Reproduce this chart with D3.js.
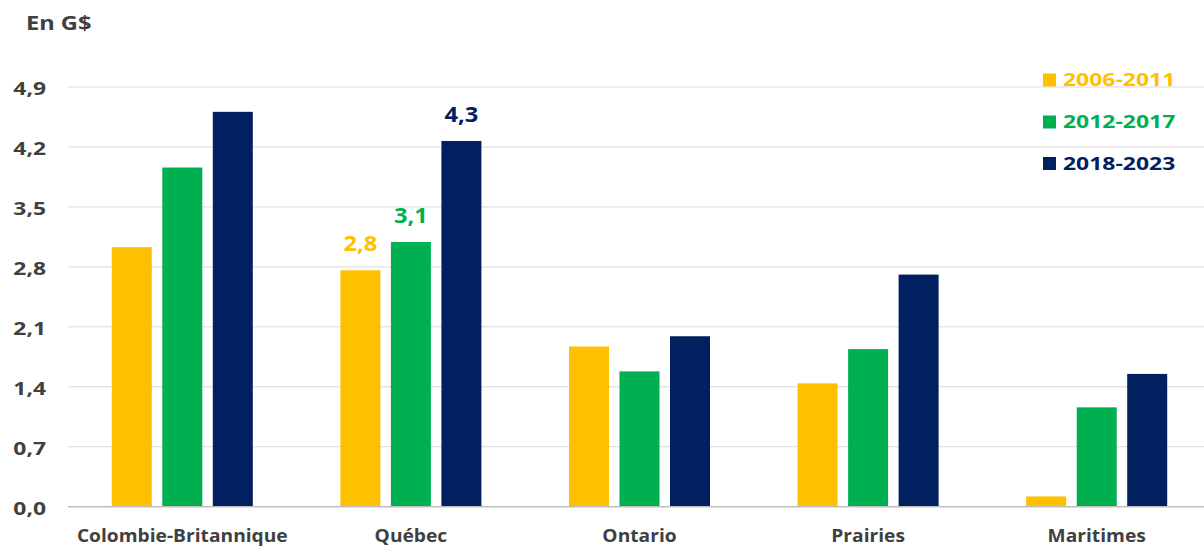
<!DOCTYPE html>
<html><head><meta charset="utf-8">
<script src="https://cdn.jsdelivr.net/npm/d3@7"></script>
<style>body{margin:0;background:#fff;} svg{display:block;font-family:"Open Sans",sans-serif;}</style>
</head><body><svg id="c" width="1204" height="547"></svg>
<script>
const categories = ["Colombie-Britannique","Québec","Ontario","Prairies","Maritimes"];
const seriesNames = ["2006-2011","2012-2017","2018-2023"];
const seriesColors = ["#FFC000","#00B050","#002060"];
const values2006 = [3.03, 2.76, 1.87, 1.44, 0.12];
const values2012 = [3.96, 3.09, 1.58, 1.84, 1.16];
const values2018 = [4.61, 4.27, 1.99, 2.71, 1.55];
const yTicks = [0, 0.7, 1.4, 2.1, 2.8, 3.5, 4.2, 4.9];
const dataLabels = [{cat:"Québec", s:0, text:"2,8"},{cat:"Québec", s:1, text:"3,1"},{cat:"Québec", s:2, text:"4,3"}];
const series = [values2006, values2012, values2018];

const FONT = "'Open Sans',sans-serif";
const svg = d3.select("#c");
const x = d3.scaleBand().domain(categories).range([68, 1211]).padding(0);
const xs = d3.scaleBand().domain([0,1,2]).range([0, x.bandwidth()]).paddingInner(0.208).paddingOuter(0.867);
const y = d3.scaleLinear().domain([0, 4.9]).range([506.7, 87]);

// gridlines
svg.append("g").selectAll("line").data(yTicks.filter(d=>d>0)).join("line")
  .attr("x1", 68).attr("x2", 1204).attr("y1", d=>y(d)).attr("y2", d=>y(d))
  .attr("stroke", "#d9d9d9").attr("stroke-width", 1);

// bars
const g = svg.append("g");
categories.forEach((c, i) => {
  series.forEach((vals, s) => {
    g.append("rect").attr("x", x(c) + xs(s)).attr("width", xs.bandwidth())
      .attr("y", y(vals[i])).attr("height", y(0) - y(vals[i])).attr("fill", seriesColors[s]);
  });
});

// baseline
svg.append("line").attr("x1", 68).attr("x2", 1204).attr("y1", y(0)).attr("y2", y(0))
  .attr("stroke", "#bfbfbf").attr("stroke-width", 1.5);

// y axis
const yAxis = d3.axisLeft(y).tickValues(yTicks).tickSize(0).tickPadding(0)
  .tickFormat(d => d3.format(".1f")(d).replace(".", ","));
const ya = svg.append("g").attr("transform", "translate(46,1)").call(yAxis);
ya.select(".domain").remove();
ya.selectAll("text").attr("fill", "#404040").style("font-size", "18px").style("font-weight", "bold")
  .attr("dy", "0.35em").attr("x", 0).attr("transform", "scale(1.27,1)").style("font-family", FONT);

// x axis
const xAxis = d3.axisBottom(x).tickSize(0).tickPadding(0);
const xa = svg.append("g").attr("transform", "translate(0,530)").call(xAxis);
xa.select(".domain").remove();
xa.selectAll("text").attr("fill", "#404040").style("font-size", "17px").style("font-weight", "bold")
  .attr("dy", "0.35em").attr("y", 6).attr("transform", "scale(1.13,1)").style("font-family", FONT);
xa.selectAll(".tick").each(function(){
  // keep the tick centred: scale around tick origin (text at x=0)
});

// unit label
svg.append("text").attr("transform", "translate(26,30) scale(1.18,1)").text("En G$")
  .attr("fill", "#404040").style("font-size", "20px").style("font-weight", "bold");

// data labels
dataLabels.forEach(d => {
  const i = categories.indexOf(d.cat);
  const cx = x(d.cat) + xs(d.s) + xs.bandwidth()/2;
  const cy = y(series[d.s][i]) - 19;
  svg.append("text").attr("transform", `translate(${cx},${cy}) scale(1.13,1)`)
    .attr("text-anchor", "middle").text(d.text).attr("fill", seriesColors[d.s])
    .style("font-size", "21px").style("font-weight", "bold");
});

// legend
const leg = svg.append("g");
const legY = [80, 122, 163.5];
seriesNames.forEach((n, s) => {
  leg.append("rect").attr("x", 1043).attr("y", legY[s] - 6.5).attr("width", 13).attr("height", 13).attr("fill", seriesColors[s]);
  leg.append("text").attr("transform", `translate(1063,${legY[s]}) scale(1.24,1)`).attr("dy", "0.35em").text(n)
    .attr("fill", seriesColors[s]).style("font-size", "18.5px").style("font-weight", "bold");
});
</script></body></html>
